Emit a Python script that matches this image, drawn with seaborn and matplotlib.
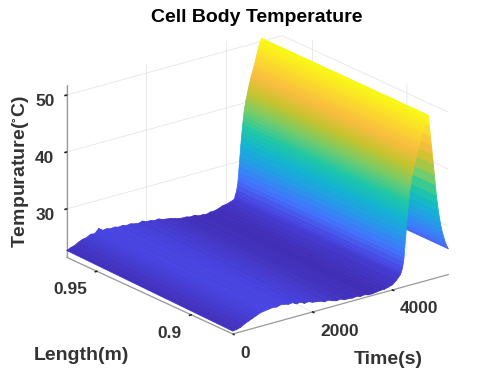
import numpy as np
import matplotlib
matplotlib.use('Agg')
import matplotlib.pyplot as plt
import seaborn as sns

# values
time_low = [0, 100, 200, 300, 400, 500, 600, 700, 800, 900, 1000, 1100, 1200, 1300, 1400,
            1500, 1600, 1700, 1800, 1900, 2000, 2100, 2200, 2300, 2400, 2500, 2600, 2700,
            2800, 2900, 3000, 3100, 3200, 3300, 3400, 3500, 3600, 3700, 3800, 3900, 4000,
            4100, 4200]
temp_far_low = [22.7, 23.0, 23.2, 23.6, 23.9, 24.0, 24.4, 24.3, 25.0, 24.5, 24.6, 24.4, 24.5,
                24.3, 24.4, 24.2, 24.3, 24.1, 24.0, 24.2, 23.9, 23.9, 23.7, 23.8, 23.5, 23.4,
                23.3, 23.1, 22.9, 22.8, 22.8, 22.6, 22.7, 22.4, 22.4, 22.3, 22.5, 22.5, 22.7,
                23.0, 23.1, 23.3, 23.6]
temp_near_low = [22.0, 22.1, 22.3, 22.7, 23.0, 23.3, 23.6, 23.9, 24.0, 24.1, 24.2, 24.1, 24.3,
                 24.2, 24.0, 24.1, 23.7, 23.8, 23.4, 23.5, 23.2, 23.1, 23.0, 22.7, 22.8, 22.5,
                 22.3, 22.4, 22.1, 22.1, 22.0, 22.1, 21.9, 22.0, 21.8, 21.8, 21.9, 22.0, 22.0,
                 22.2, 22.4, 23.0, 23.8]
time_peak = [4220, 4240, 4260, 4280, 4290, 4300, 4310, 4320, 4330, 4340, 4350, 4360, 4370, 4380,
             4390, 4400, 4410, 4420, 4430, 4440, 4450, 4460, 4470, 4480, 4490, 4500, 4510, 4520,
             4530, 4540, 4550, 4560, 4570, 4580, 4600, 4620, 4640, 4660, 4680, 4700, 4720, 4740,
             4760, 4780, 4800, 4820, 4840, 4860, 4880, 4900, 4925, 4950, 4975, 5000, 5025, 5050,
             5075, 5100, 5125, 5150, 5175, 5200, 5225, 5250, 5275, 5300, 5325, 5350, 5375, 5400]
temp_peak = [24.2, 24.6, 25.2, 26.0, 26.7, 27.5, 28.4, 29.3, 30.2, 31.0, 31.9, 32.8, 33.6, 34.4,
             35.1, 35.8, 36.5, 37.1, 37.8, 38.4, 38.9, 39.3, 39.7, 40.2, 40.5, 40.7, 41.0, 41.4,
             41.7, 42.0, 42.3, 42.7, 43.0, 43.3, 43.8, 44.4, 44.8, 45.3, 45.8, 46.2, 46.8, 47.3,
             47.9, 48.4, 48.9, 49.4, 49.9, 50.2, 50.5, 50.4, 48.6, 46.7, 45.1, 43.4, 41.6, 39.7,
             37.9, 36.0, 34.6, 33.2, 32.0, 30.9, 30.0, 29.2, 28.5, 27.9, 27.3, 26.8, 26.4, 26.0]
length_m = [0.878, 0.966]

parula = ['#3e26a8', '#4743e0', '#4273fd', '#2797eb', '#13b4d1', '#1fc8a5',
          '#73cc6c', '#c3c42e', '#f9bd3f', '#fbdb2c', '#f9fb15']

sns.set_theme(style='white', rc={'grid.color': '#e6e6e6', 'grid.linewidth': 0.6})
plt.rcParams['font.family'] = ['Liberation Sans', 'DejaVu Sans']
plt.rcParams['mathtext.default'] = 'regular'

time_s = np.array(time_low + time_peak)
temp_near = np.array(temp_near_low + temp_peak)
temp_far = np.array(temp_far_low + temp_peak)
T, L = np.meshgrid(time_s, length_m)
Z = np.vstack([temp_near, temp_far])

cmap = sns.blend_palette(parula, as_cmap=True)
norm = plt.Normalize(21.3, 50.6)

fig = plt.figure(figsize=(4.97, 3.73), dpi=100)
ax = fig.add_axes([4 / 497, 1.5 / 373, 1, 1], projection='3d', proj_type='ortho')
ax.patch.set_alpha(0)
ax.view_init(elev=20.9, azim=-127.7)
ax.set_box_aspect((274, 273, 185), zoom=1.11)
cols = cmap(norm((Z[:-1, :-1] + Z[1:, :-1] + Z[:-1, 1:] + Z[1:, 1:]) / 4))
surf = ax.plot_surface(T, L, Z, facecolors=cols, rstride=1, cstride=1, shade=False,
                       linewidth=0.5, antialiased=True)
# the 3d axes box is square, the surface runs past it on the right
surf.set_clip_on(False)

ax.set_xlim(0, 5400, view_margin=0)
ax.set_ylim(0.878, 0.966, view_margin=0)
ax.set_zlim(21.5, 51.7, view_margin=0)
ax.set_xticks([0, 2000, 4000])
ax.set_yticks([0.9, 0.95])
ax.set_yticklabels(['0.9', '0.95'])
ax.set_zticks([30, 40, 50])

for axis in (ax.xaxis, ax.yaxis, ax.zaxis):
    axis.set_pane_color((1, 1, 1, 0))
    axis.pane.set_edgecolor((1, 1, 1, 0))
    axis.line.set_color('#999999')
    axis.line.set_linewidth(0.9)
    axis._axinfo['tick']['inward_factor'] = 0.1
    axis._axinfo['tick']['outward_factor'] = 0
    axis._axinfo['tick']['color'] = '#999999'
ax.zaxis.set_ticks_position('upper')
ax.tick_params(labelsize=12.5, labelcolor='#333333', pad=0)
ax.tick_params(axis='x', pad=-1.5)
ax.tick_params(axis='y', pad=-1.5)
for lab in ax.get_xticklabels() + ax.get_yticklabels() + ax.get_zticklabels():
    lab.set_fontweight('bold')
for lab in ax.get_xticklabels():
    lab.set_ha('left')
for lab in ax.get_yticklabels():
    lab.set_ha('right')

fig.text(257 / 497, 1 - 18 / 373, 'Cell Body Temperature', ha='center', va='center', fontsize=14,
         fontweight='bold', color='black')
fig.text(81 / 497, 1 - 356 / 373, 'Length(m)', ha='center', va='center', fontsize=14, fontweight='bold', color='#333333')
fig.text(388 / 497, 1 - 360 / 373, 'Time(s)', ha='center', va='center', fontsize=14, fontweight='bold', color='#333333')
fig.text(21 / 497, 1 - 172 / 373, r'Tempurature($^{\circ}$C)', rotation=90, ha='center', va='center',
         fontsize=14, fontweight='bold', color='#333333')

fig.savefig('out.png', dpi=100)
